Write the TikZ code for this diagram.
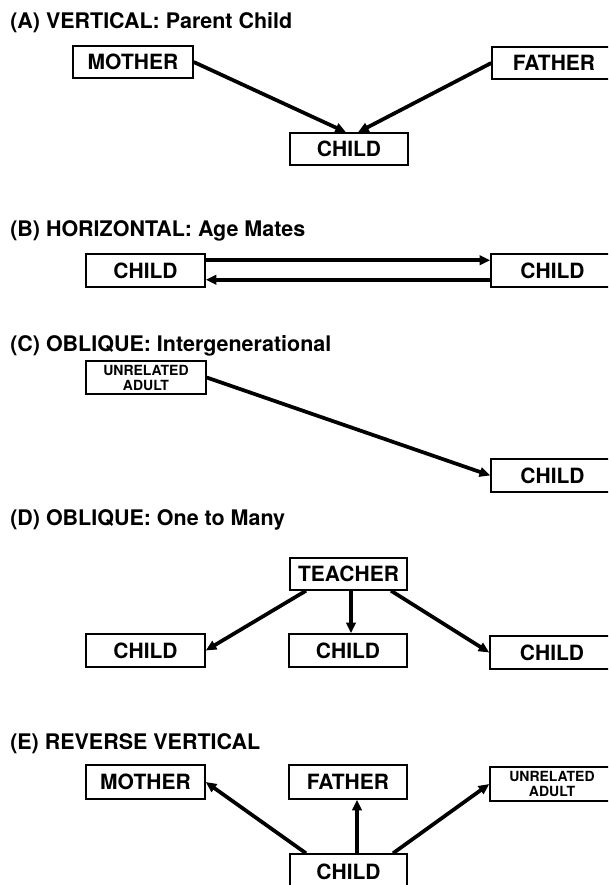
\documentclass[tikz,border=0pt]{standalone}
\usepackage{fontspec}
\setmainfont{TeX Gyre Heros}
\usetikzlibrary{arrows.meta,calc}
\begin{document}
\begin{tikzpicture}[x=0.75pt,y=-0.75pt,
  box/.style={draw,line width=1.1pt,inner sep=0pt,font=\fontsize{15.75pt}{18pt}\selectfont\bfseries},
  sz/.style 2 args={minimum width=#1*0.75pt,minimum height=#2*0.75pt},
  smallbox/.style={font=\fontsize{10.5pt}{11.25pt}\selectfont\bfseries,align=center},
  ttl/.style={anchor=base west,inner sep=0pt,font=\fontsize{16.1pt}{19pt}\selectfont\bfseries},
  arr/.style={line width=2.8pt,-{Triangle[length=8pt,width=7pt]}}]
\useasboundingbox (0,0) rectangle (608,885);
\clip (0,0) rectangle (608,885);
% (A)
\node[ttl] (tA) at (10,28) {(A) VERTICAL: Parent Child};
\node[box,sz={120}{32}] (mA) at (133,62) {MOTHER};
\node[box,sz={124}{32}] (fA) at (554,63) {FATHER};
\node[box,sz={118}{32}] (cA) at (349,149) {CHILD};
\draw[arr] (mA.east) -- ($(cA.north)+(-3,0)$);
\draw[arr] (fA.west) -- ($(cA.north)+(9,0)$);
% (B)
\node[ttl] (tB) at (10,236) {(B) HORIZONTAL: Age Mates};
\node[box,sz={119}{33}] (cB1) at (145.5,270.5) {CHILD};
\node[box,sz={123}{33}] (cB2) at (552.5,270.5) {CHILD};
\draw[arr] ($(cB1.north east)+(0,7)$) -- ($(cB2.north west)+(0,7)$);
\draw[arr] ($(cB2.south west)+(0,-8)$) -- ($(cB1.south east)+(0,-8)$);
% (C)
\node[ttl] (tC) at (10,351) {(C) OBLIQUE: Intergenerational};
\node[box,sz={120}{33},smallbox] (uC) at (146,377.5) {UNRELATED\\ADULT};
\node[box,sz={123}{33}] (cC) at (552.5,475.5) {CHILD};
\draw[arr] (uC.east) -- (cC.west);
% (D)
\node[ttl] (tD) at (10,525) {(D) OBLIQUE: One to Many};
\node[box,sz={117}{32}] (tchD) at (348.5,574) {TEACHER};
\node[box,sz={119}{33}] (cD1) at (145.5,650.5) {CHILD};
\node[box,sz={118}{33}] (cD2) at (348,650.5) {CHILD};
\node[box,sz={124}{33}] (cD3) at (552,652.5) {CHILD};
\draw[arr] ($(tchD.south)+(-42.5,0)$) -- (cD1.east);
\draw[arr] ($(tchD.south)+(2.5,0)$) -- ($(cD2.north)+(3,0)$);
\draw[arr] ($(tchD.south)+(42.5,0)$) -- (cD3.west);
% (E)
\node[ttl] (tE) at (10,749) {(E) REVERSE VERTICAL};
\node[box,sz={119}{34}] (mE) at (145.5,782) {MOTHER};
\node[box,sz={118}{34}] (fE) at (348,782) {FATHER};
\node[box,sz={124}{34},smallbox] (uE) at (552,784) {UNRELATED\\ADULT};
\node[box,sz={117}{36}] (cE) at (348.5,872) {CHILD};
\draw[arr] ($(cE.north)+(-42.5,0)$) -- (mE.east);
\draw[arr] ($(cE.north)+(8.5,0)$) -- ($(fE.south)+(9,0)$);
\draw[arr] ($(cE.north)+(44.5,0)$) -- (uE.west);
\end{tikzpicture}
\end{document}
